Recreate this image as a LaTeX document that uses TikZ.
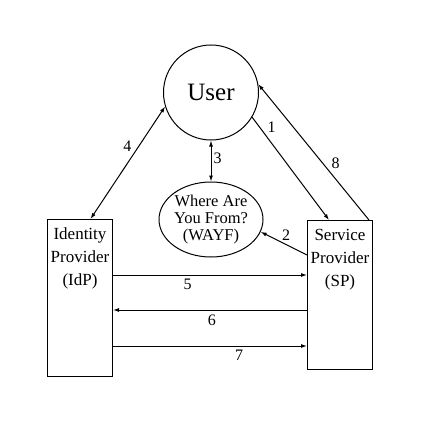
\documentclass[tikz,border=0pt]{standalone}
\usepackage{fontspec}
\setmainfont{Liberation Serif}
\usetikzlibrary{arrows.meta, calc, shapes.geometric}

\tikzset{
  flow/.style={-{Latex[length=6pt,width=4pt]}},
  twoway/.style={{Latex[length=6pt,width=4pt]}-{Latex[length=6pt,width=4pt]}},
  provider/.style={draw, minimum width=65pt, inner sep=0pt, anchor=north west},
  boxtext/.style={align=center, inner sep=0pt, anchor=north,
    font=\fontsize{17}{23}\selectfont},
  steplabel/.style={font=\fontsize{16}{16}\selectfont, inner sep=2pt},
}

\begin{document}
\begin{tikzpicture}[x=1pt, y=-1pt, line width=1pt]
  \useasboundingbox (0,0) rectangle (425,425);

  % Utilisateur et WAYF
  \node[circle, draw, minimum size=95pt, inner sep=0pt,
        font=\fontsize{25}{25}\selectfont] (user) at (211,92.5) {User};
  \node[ellipse, draw, minimum width=104pt, minimum height=75pt,
        inner ysep=0pt, inner xsep=-2pt, align=center,
        font=\fontsize{16.5}{17}\selectfont] (wayf) at (211,219.5)
    {Where Are\\You From?\\(WAYF)};

  % Fournisseurs
  \node[provider, minimum height=157pt] (idp) at (47,219) {};
  \node[boxtext] (idptext) at ($(idp.north)+(0,8.5)$)
    {Identity\\Provider\\(IdP)};
  \node[provider, minimum height=149pt] (sp) at (307,220) {};
  \node[boxtext] (sptext) at ($(sp.north)+(0,8.5)$)
    {Service\\Provider\\(SP)};

  % Echanges avec l'utilisateur
  \draw[flow] (user.-31.5)
    -- node[steplabel, pos=0.17, above right] (lab1) {1}
    ($(sp.north)+(-11,0)$);
  \draw[flow] ($(sp.north west)+(0,35)$)
    -- node[steplabel, pos=0.45, above=2pt] (lab2) {2} (wayf.-14);
  \draw[twoway] (user.south)
    -- node[steplabel, pos=0.43, right] (lab3) {3} (wayf.north);
  \draw[twoway] ($(idp.north)+(10.5,0)$)
    -- node[steplabel, pos=0.58, above left] (lab4) {4} (user.197.5);
  \draw[flow] ($(sp.north east)+(-4,0)$)
    -- node[steplabel, pos=0.36, above right] (lab8) {8} (user.10.7);

  % Echanges IdP / SP
  \coordinate (out5) at ($(idp.north east)+(0,56)$);
  \coordinate (in6) at ($(idp.north east)+(0,91)$);
  \coordinate (out7) at ($(idp.north east)+(0,127)$);
  \draw[flow] (out5)
    -- node[steplabel, pos=0.385, below=2pt] (lab5) {5} (out5 -| sp.west);
  \draw[flow] (in6 -| sp.west)
    -- node[steplabel, pos=0.49, below=2pt] (lab6) {6} (in6);
  \draw[flow] (out7)
    -- node[steplabel, pos=0.65, below=2pt] (lab7) {7} (out7 -| sp.west);
\end{tikzpicture}
\end{document}
